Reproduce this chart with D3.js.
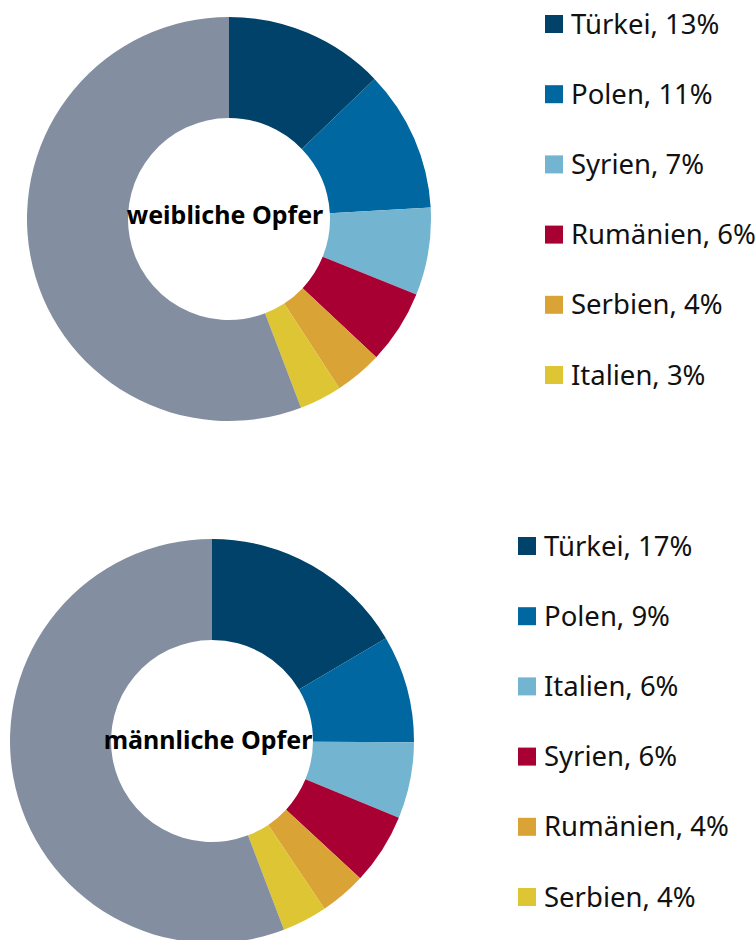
<!DOCTYPE html>
<html>
<head>
<meta charset="utf-8">
<script src="https://cdn.jsdelivr.net/npm/d3@7"></script>
<style>
  body { margin: 0; background: #fff; }
  svg { display: block; font-family: "Noto Sans", sans-serif; }
</style>
</head>
<body>
<div id="chart"></div>
<script>
// shares (legend shows them rounded)
var femaleCountries = ["Türkei", "Polen", "Syrien", "Rumänien", "Serbien", "Italien"];
var femaleShares = [12.8, 11.3, 7.0, 5.9, 3.8, 3.4];

var maleCountries = ["Türkei", "Polen", "Italien", "Syrien", "Rumänien", "Serbien"];
var maleShares = [16.5, 8.6, 6.1, 5.7, 3.7, 3.6];

var sliceColors = ["#004269", "#0067a0", "#73b4d0", "#a90034", "#daa336", "#ddc533"];
var otherColor = "#838fa1";

var width = 756, height = 940;

var svg = d3.select("#chart").append("svg")
    .attr("width", width)
    .attr("height", height);

function drawDonut(title, countries, shares, cx, cy, legendX, labelDy) {
    var outerR = 202, innerR = 101;

    var data = countries.map(function(c, i) {
        return { name: c, value: shares[i], color: sliceColors[i] };
    });
    data.push({ name: "", value: 100 - d3.sum(shares), color: otherColor });

    var pie = d3.pie().sort(null).value(function(d) { return d.value; });
    var arc = d3.arc().innerRadius(innerR).outerRadius(outerR);

    var g = svg.append("g")
        .attr("transform", "translate(" + cx + "," + cy + ")");

    g.selectAll("path")
        .data(pie(data))
        .enter().append("path")
        .attr("d", arc)
        .attr("fill", function(d) { return d.data.color; });

    g.append("text")
        .attr("x", -4)
        .attr("y", labelDy)
        .attr("text-anchor", "middle")
        .style("font-size", "25px")
        .style("font-weight", "700")
        .style("fill", "#000")
        .text(title);

    // legend
    var y = d3.scalePoint()
        .domain(countries)
        .range([cy - 195, cy - 195 + 70.2 * (countries.length - 1)]);

    var leg = svg.append("g").attr("class", "legend");
    var rows = leg.selectAll("g")
        .data(data.slice(0, countries.length))
        .enter().append("g")
        .attr("transform", function(d) { return "translate(" + legendX + "," + y(d.name) + ")"; });

    rows.append("rect")
        .attr("x", 0)
        .attr("y", -9)
        .attr("width", 18)
        .attr("height", 18)
        .attr("fill", function(d) { return d.color; });

    rows.append("text")
        .attr("x", 26)
        .attr("y", 9.5)
        .style("font-size", "27.5px")
        .style("fill", "#111")
        .text(function(d) { return d.name + ", " + Math.round(d.value) + "%"; });
}

drawDonut("weibliche Opfer", femaleCountries, femaleShares, 229, 219, 545, 5);
drawDonut("männliche Opfer", maleCountries, maleShares, 212, 741, 518, 7.5);
</script>
</body>
</html>
